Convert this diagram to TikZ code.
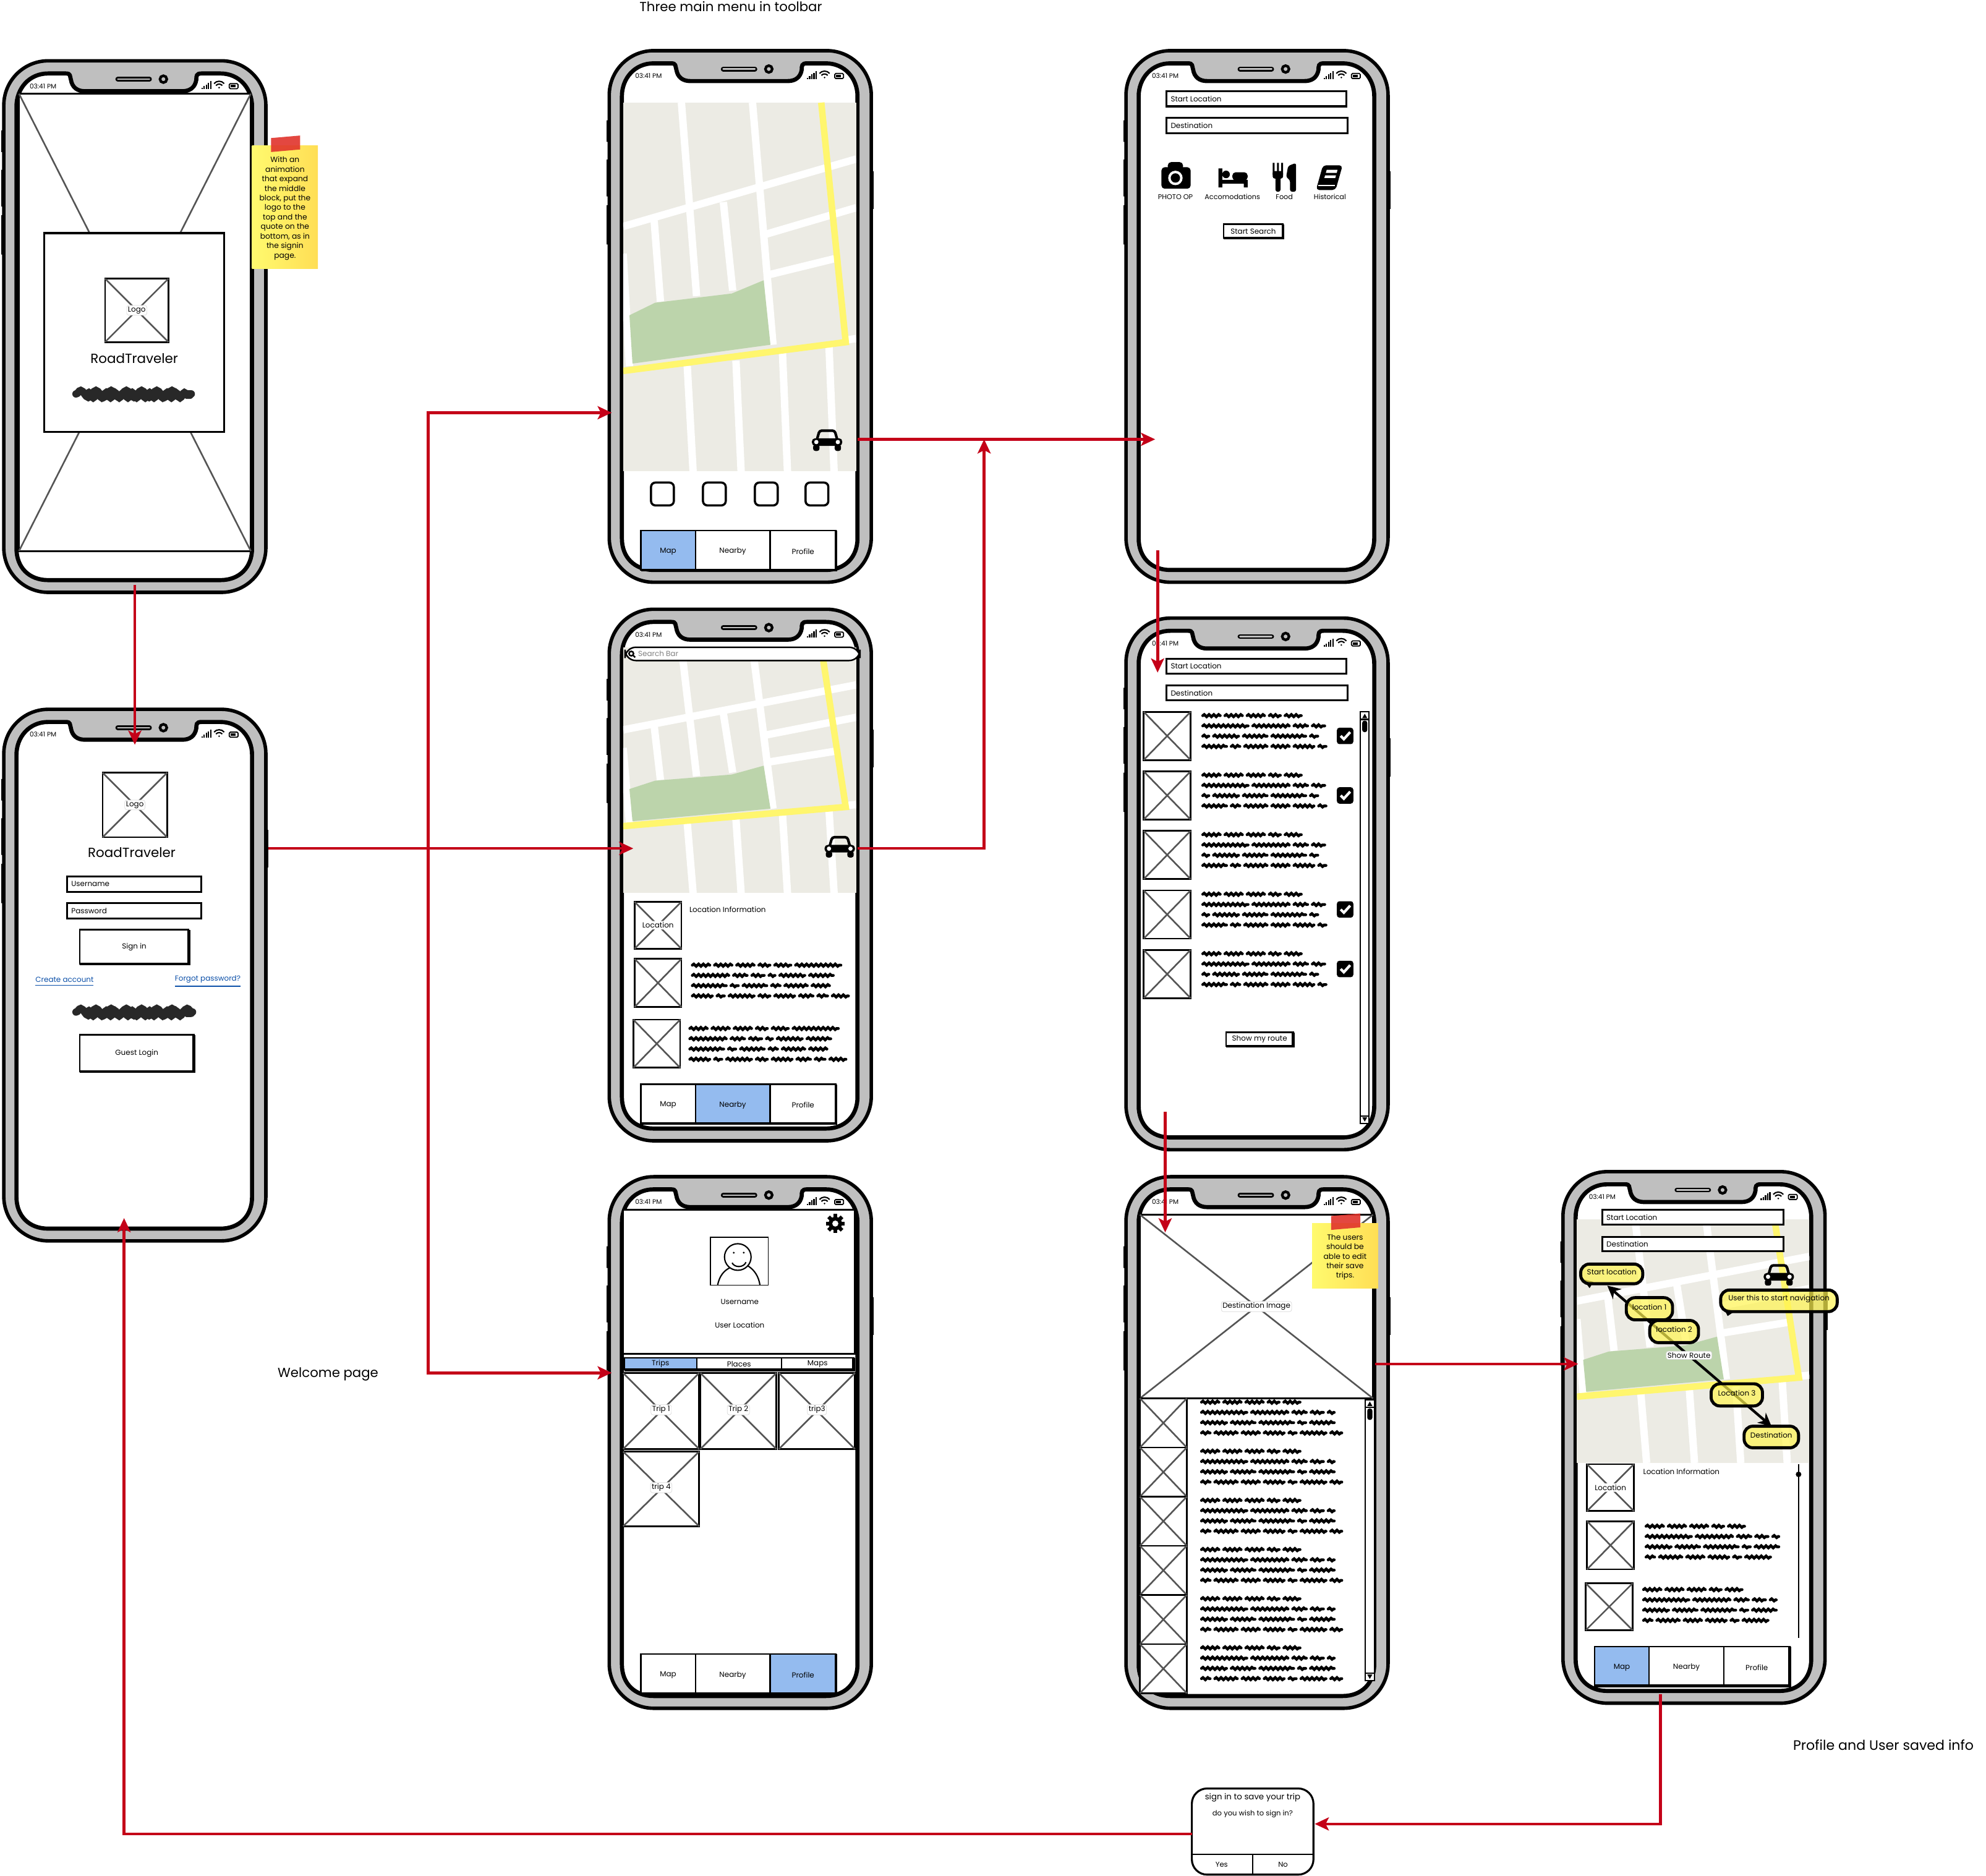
\documentclass[tikz,border=0pt]{standalone}
\usepackage{fontspec}
\setmainfont{Poppins}
\usetikzlibrary{arrows.meta, fit, calc, decorations.pathmorphing}
\definecolor{casegray}{RGB}{191,191,191}
\definecolor{crossgray}{RGB}{85,85,85}
\definecolor{flowred}{RGB}{196,0,24}
\definecolor{tabblue}{RGB}{148,187,239}
\definecolor{linkblue}{RGB}{11,79,168}
\definecolor{mapground}{RGB}{236,235,228}
\definecolor{mappark}{RGB}{188,212,171}
\definecolor{maproad}{RGB}{255,246,110}
\definecolor{stickylight}{RGB}{255,250,110}
\definecolor{stickydark}{RGB}{255,222,85}
\definecolor{tapered}{RGB}{224,52,44}
\definecolor{bubbleyellow}{RGB}{255,244,80}
\definecolor{blobgray}{RGB}{40,40,40}

\newcommand{\fsz}[1]{\fontsize{#1}{#1}\selectfont}

\tikzset{
    phonecase/.style={draw=black, fill=casegray, line width=1.6pt, rounded corners=0.72cm, anchor=north west, inner sep=0pt, outer sep=0pt, minimum width=4.24cm, minimum height=8.6cm},
    phonescreen/.style={draw=black, fill=white, line width=1.9pt},
    statustext/.style={font=\fsz{3}, inner sep=0pt},
    wireimg/.style={draw=black, fill=white, line width=0.8pt, inner sep=0pt, outer sep=0pt},
    wirecross/.style={draw=crossgray, line width=0.75pt},
    wiretag/.style={font=\fsz{3.4}, fill=white, draw=black!15, line width=0.2pt, rounded corners=1pt, inner sep=0.6pt},
    fieldbox/.style={draw=black, fill=white, line width=0.9pt, inner sep=0pt, outer sep=0pt},
    fieldtext/.style={font=\fsz{3.4}, anchor=west, inner sep=0pt},
    plaintext/.style={font=\fsz{3.4}, inner sep=0pt},
    captiontext/.style={font=\fsz{6.05}, inner sep=0pt},
    brandtext/.style={font=\fsz{6.1}, inner sep=0pt},
    btnbox/.style={draw=black, fill=white, line width=0.7pt, inner sep=0pt, outer sep=0pt},
    btnshade/.style={draw=black, line width=1.3pt},
    tabcell/.style={draw=black, line width=0.6pt, inner sep=0pt, outer sep=0pt},
    scribble/.style={line width=1.3pt, line cap=round, decorate, decoration={snake, amplitude=0.5pt, segment length=2.2pt}},
    scribbleblob/.style={draw=blobgray, line width=3.4pt, line cap=round, decorate, decoration={snake, amplitude=1.6pt, segment length=7pt}},
    stickynote/.style={left color=stickylight, right color=stickydark, inner sep=0pt, outer sep=0pt, align=center},
    bubble/.style={draw=black, line width=1.4pt, fill=bubbleyellow, fill opacity=0.7, text opacity=1, rounded corners=4pt, inner sep=0pt},
    flow/.style={draw=flowred, line width=1.3pt, -{Stealth[length=6.5pt, width=6pt, inset=1.5pt]}},
    routeline/.style={draw=black, line width=1.2pt, {Stealth[length=6pt, width=6pt]}-{Stealth[length=6pt, width=6pt]}},
    roadline/.style={draw=white, line width=3.4pt},
}

% phone body with status bar: name, x, y
\newcommand{\phone}[3]{%
    \begin{scope}[shift={(#2,#3)}]
        % side buttons
        \fill[black] (-2,55) rectangle (1,72) (-2,86) rectangle (1,115) (-2,122) rectangle (1,153);
        \fill[black] (205,95) rectangle (209,125);
        \node[phonecase] (#1) at (0,0) {};
        \draw[phonescreen] (35,10) -- (49,10) .. controls (53,10) and (52,12) .. (53,15) .. controls (54,21) and (58,24) .. (64,24) -- (141,24) .. controls (147,24) and (151,21) .. (152,15) .. controls (152,12) and (152,10) .. (156,10) -- (171,10) .. controls (186,10) and (196,22) .. (196,36) -- (196,385) .. controls (196,400) and (186,410) .. (171,410) -- (35,410) .. controls (20,410) and (10,400) .. (10,385) -- (10,36) .. controls (10,22) and (20,10) .. (35,10) -- cycle;
        % speaker and camera
        \draw[line width=2.2pt, line cap=round] (90,14.5) -- (115,14.5);
        \draw[casegray, line width=0.7pt, line cap=round] (90,14.5) -- (115,14.5);
        \draw[line width=1.2pt] (126,14.5) circle (2.7);
        \node[statustext] (#1-time) at (31,20) {03:41 PM};
        % signal bars
        \foreach \i in {0,...,4} {
            \fill[black] ({156+1.7*\i},22.5) rectangle ++(1.1,{-1.2-1.3*\i});
        }
        % wifi
        \draw[line width=0.6pt] (166,18) .. controls (168,15.5) and (172,15.5) .. (174,18);
        \draw[line width=0.6pt] (167.5,19.5) .. controls (169,18) and (171,18) .. (172.5,19.5);
        \fill[black] (170,21.2) circle (0.7);
        % battery
        \draw[line width=0.5pt, rounded corners=0.5pt] (178,18) rectangle (185,22);
        \fill[black] (179,19) rectangle (183,21);
    \end{scope}
}

% map view: x, y, width, height
\newcommand{\mapview}[4]{%
    \begin{scope}[shift={(#1,#2)}, xscale=#3, yscale=#4]
        \fill[mapground] (0,0) rectangle (1,1);
        \begin{scope}
            \clip (0,0) rectangle (1,1);
            % roads
            \foreach \ua/\va/\ub/\vb in {0/.336/1/.153, .608/.358/1/.285, .626/.467/.91/.423, .25/0/.315/.525, .555/0/.643/.657, .133/.32/.16/.54, .43/.27/.47/.51, 0/.41/.027/.715, .275/.715/.30/1, .484/.70/.506/1, .683/.67/.705/1, .883/.657/.905/1, .95/.645/1/.64} {
                \draw[roadline] (\ua,\va) -- (\ub,\vb);
            }
            \fill[mappark] (.027,.577) -- (.137,.543) -- (.466,.518) -- (.603,.482) -- (.632,.657) -- (.04,.708) -- cycle;
            \draw[draw=maproad, line width=3pt] (.85,0) -- (.955,.65) -- (0,.728);
        \end{scope}
    \end{scope}
}

% image placeholder: name, x1, y1, x2, y2
\newcommand{\wirebox}[5]{%
    \node[wireimg, fit={(#2,#3)(#4,#5)}] (#1) {};
    \draw[wirecross] (#1.north west) -- (#1.south east) (#1.north east) -- (#1.south west);
}

% input field: name, x1, y1, x2, y2, text
\newcommand{\inputfield}[6]{%
    \node[fieldbox, fit={(#2,#3)(#4,#5)}] (#1) {};
    \node[fieldtext] (#1-text) at ([shift={(3,0)}]#1.west) {#6};
}

% button with heavy edge: name, x1, y1, x2, y2, text
\newcommand{\wirebutton}[6]{%
    \node[btnbox, fit={(#2,#3)(#4,#5)}] (#1) {};
    \node[plaintext] (#1-text) at (#1) {#6};
    \draw[btnshade] (#1.north east) -- (#1.south east) -- (#1.south west);
}

% bottom toolbar: name, x, y, active cell
\newcommand{\tabbar}[4]{%
    \foreach \cellno/\cola/\colb/\celltext in {1/0/43/Map, 2/43/102/Nearby, 3/102/154/Profile} {
        \ifnum\cellno=#4 \def\tabfill{tabblue}\else\def\tabfill{white}\fi
        \node[tabcell, fill=\tabfill, fit={({#2+\cola},#3)({#2+\colb},{#3+31})}] (#1-\cellno) {};
        \node[plaintext] (#1-\cellno-text) at ([shift={(0,1)}]#1-\cellno) {\celltext};
    }
    \draw[btnshade] (#1-3.north east) -- (#1-3.south east) -- (#1-1.south west);
}

% scribbled paragraph: x, y, width
\newcommand{\lorem}[3]{%
    \xdef\wordx{0}\xdef\wordy{0}
    \foreach \w in {15,15,15,10,14,37,30,12,11,6,21,20,28,7,20,8,19,15,17,7,21,10,17,12,9,14,18,22,11,16} {
        \pgfmathsetmacro\wordend{\wordx+\w}
        \ifdim\wordend pt>#3pt
            \pgfmathsetmacro\wordtmp{\wordy+8.1}
            \xdef\wordy{\wordtmp}
            \xdef\wordx{0}
            \pgfmathsetmacro\wordend{\w}
        \fi
        \ifdim\wordy pt<25pt
            \draw[scribble] ({#1+\wordend-\w+0.6},{#2+\wordy}) -- ++({\w-1.2},0);
        \fi
        \pgfmathsetmacro\wordtmp{\wordend+2.5}
        \xdef\wordx{\wordtmp}
    }
}

% thick scribble: x1, x2, y
\newcommand{\blobline}[3]{%
    \draw[scribbleblob] (#1,#3) -- (#2,#3);
    \draw[scribbleblob, decoration={segment length=4pt, amplitude=1.2pt}] ({#1+8},{#3+1}) -- ({#2-1},{#3+1});
}

% scroll bar: x1, y1, x2, y2
\newcommand{\scrollrail}[4]{%
    \draw[line width=0.6pt, fill=white] (#1,#2) rectangle (#3,#4);
    \draw[line width=0.6pt] (#1,{#2+6}) -- (#3,{#2+6}) (#1,{#4-6}) -- (#3,{#4-6});
    \fill[black] ({#1+1.5},{#2+5}) -- ({#3-1.5},{#2+5}) -- ({(#1+#3)/2},{#2+1.5}) -- cycle;
    \fill[black] ({#1+1.5},{#4-5}) -- ({#3-1.5},{#4-5}) -- ({(#1+#3)/2},{#4-1.5}) -- cycle;
    \fill[black, rounded corners=1pt] ({#1+1.5},{#2+7}) rectangle ({#3-1.5},{#2+16});
}

% black car: center x, y
\newcommand{\caricon}[2]{%
    \begin{scope}[shift={(#1,#2)}]
        \draw[line width=1.2pt, rounded corners=1pt] (-8,0) -- (-6,-7) -- (6,-7) -- (8,0);
        \fill[black, rounded corners=1.5pt] (-12,-1) rectangle (12,5);
        \fill[black, rounded corners=1pt] (-11,4) rectangle (-6,9) (6,4) rectangle (11,9);
        \fill[white] (-8.5,2) circle (1.7) (8.5,2) circle (1.7);
    \end{scope}
}

% checked box: center x, y
\newcommand{\checkicon}[2]{%
    \fill[black, rounded corners=1.2pt] ({#1-6.5},{#2-6.5}) rectangle ({#1+6.5},{#2+6.5});
    \draw[white, line width=1.2pt] ({#1-3.5},{#2}) -- ({#1-1},{#2+2.5}) -- ({#1+4},{#2-3});
}

% sticky note: name, x1, y1, x2, y2, text
\newcommand{\sticky}[6]{%
    \node[stickynote, fit={(#2,#3)(#4,#5)}] (#1) {};
    \node[align=center, inner sep=0pt, font=\fontsize{3.5}{4.4}\selectfont] (#1-text) at ([shift={(0,1)}]#1) {#6};
    \fill[tapered, opacity=0.9] ([shift={(-11,-6)}]#1.north) -- ([shift={(12,-8)}]#1.north) -- ([shift={(12,3)}]#1.north) -- ([shift={(-11,5)}]#1.north) -- cycle;
}

\begin{document}
\begin{tikzpicture}[x=0.020485cm, y=-0.020485cm]
    \useasboundingbox (0,0) rectangle (1568,1481);
    \fill[white] (0,0) rectangle (1568,1481);

    % Free captions
    \node[captiontext] (capmenu) at (577,5) {Three main menu in toolbar};
    \node[captiontext] (capwelcome) at (259,1085) {Welcome page};
    \node[captiontext, font=\fsz{6.3}] (capprofile) at (1487,1377.5) {Profile and User saved info};

    % Welcome screen
    \phone{welcome}{3}{48}
    \wirebox{splashimg}{15}{74}{198}{435}
    \node[fieldbox, fit={(35,184)(177,341)}] (splashcard) {};
    \wirebox{splashlogo}{83}{220}{133}{270}
    \node[wiretag] (splashlogotag) at (splashlogo) {Logo};
    \node[brandtext] (splashbrand) at (106,283) {RoadTraveler};
    \blobline{60}{151}{311}
    \sticky{splashnote}{199}{115}{251}{212}{With an\\animation\\that expand\\the middle\\block, put the\\logo to the\\top and the\\quote on the\\bottom, as in\\the signin\\page.}

    % Sign in screen
    \phone{signin}{3}{560}
    \wirebox{signlogo}{81}{610}{132}{661}
    \node[wiretag] (signlogotag) at (signlogo) {Logo};
    \node[brandtext] (signbrand) at (104,673) {RoadTraveler};
    \inputfield{signuser}{53}{692}{159}{704}{Username}
    \inputfield{signpass}{53}{713}{159}{725}{Password}
    \wirebutton{signbtn}{63}{734}{149}{761}{Sign in}
    \node[plaintext, text=linkblue] (signcreate) at (51,775) {\underline{Create account}};
    \node[plaintext, text=linkblue] (signforgot) at (164,775) {\underline{Forgot password?}};
    \blobline{60}{152}{799}
    \wirebutton{signguest}{63}{817}{153}{846}{Guest Login}

    % Map screen
    \phone{mapscreen}{481}{40}
    \mapview{492}{81}{184}{291}
    \caricon{653}{347}
    \foreach \x in {514,555,596,636} {
        \draw[line width=1pt, rounded corners=2pt] (\x,381) rectangle ++(18,18);
    }
    \tabbar{maptabs}{506}{419}{1}

    % Nearby screen
    \phone{nearby}{481}{481}
    \mapview{492}{511}{184}{194}
    \draw[line width=0.7pt, fill=white, rounded corners=5pt] (493.5,511) rectangle (679,521.5);
    \draw[line width=0.7pt] (498.4,516) circle (1.8) (499.8,517.4) -- (501.5,519);
    \node[fieldtext, text=gray] (nearbysearch) at (503.5,516) {Search Bar};
    \caricon{663}{668}
    \wirebox{nearbyloc}{501}{712}{538}{749}
    \node[wiretag, draw=none] (nearbyloctag) at (nearbyloc) {Location};
    \node[fieldtext] (nearbyinfo) at (544,718) {Location Information};
    \wirebox{nearbyimga}{501}{757}{538}{795}
    \wirebox{nearbyimgb}{500}{805}{537}{843}
    \lorem{546}{762}{128}
    \lorem{544}{812}{128}
    \tabbar{nearbytabs}{506}{856}{2}

    % Profile screen
    \phone{profile}{481}{929}
    \node[fieldbox, fit={(492,955)(675,1069)}] (profilehead) {};
    \foreach \a in {0,45,...,315} {
        \fill[black, rotate around={\a:(659.5,966)}] (658,958.5) rectangle (661,962);
    }
    \fill[black] (659.5,966) circle (5.3);
    \fill[white] (659.5,966) circle (2.4);
    \node[fieldbox, line width=0.5pt, fit={(561,977)(606.5,1014.6)}] (profilepic) {};
    \draw[line width=0.6pt] (582.5,992.4) circle (10.5);
    \draw[line width=0.6pt] (566.6,1014.6) .. controls (568,1007) and (572,1003) .. (576,1001);
    \draw[line width=0.6pt] (590.7,999.5) .. controls (596,1003) and (599,1008) .. (600,1014.6);
    \fill[black] (579.3,989) circle (0.8) (587.2,989) circle (0.8);
    \draw[line width=0.6pt] (578,997) .. controls (580,1001) and (587,1001) .. (589,996.5);
    \node[plaintext] (profilename) at (584,1028) {Username};
    \node[plaintext] (profileplace) at (584,1046) {User Location};
    \foreach \cellno/\cola/\colb/\celltext/\cellfill in {1/493/550/Trips/tabblue, 2/550/617/Places/white, 3/617/674/Maps/white} {
        \node[tabcell, fill=\cellfill, fit={(\cola,1072)(\colb,1081.5)}] (profiletab\cellno) {};
        \node[plaintext] (profiletab\cellno-text) at (profiletab\cellno) {\celltext};
    }
    \draw[btnshade] (profiletab3.north east) -- (profiletab3.south east) -- (profiletab1.south west);
    \foreach \n/\xa/\ya/\xb/\yb/\lbl in {1/492/1084/552/1144/Trip 1, 2/553/1084/613/1144/Trip 2, 3/615/1084/675/1144/trip3, 4/492/1146/552/1205/trip 4} {
        \wirebox{tripimg\n}{\xa}{\ya}{\xb}{\yb}
        \node[wiretag] (tripimg\n tag) at ([shift={(0,-1)}]tripimg\n) {\lbl};
    }
    \tabbar{profiletabs}{506}{1306}{3}

    % Search screen
    \phone{search}{889}{40}
    \inputfield{searchstart}{921}{72}{1063}{84}{Start Location}
    \inputfield{searchdest}{921}{93}{1064}{105}{Destination}
    % camera
    \fill[black, rounded corners=1.5pt] (917,132) rectangle (940,149) (922,128) rectangle (934,134);
    \fill[white] (928,140.5) circle (5.7);
    \fill[black] (928,140.5) circle (3.7);
    % bed
    \fill[black] (962,133) rectangle (965,148) (965,142) rectangle (985,145) (982,145) rectangle (985,148);
    \fill[black] (968,137.7) circle (3);
    \fill[black, rounded corners=1.5pt] (973,136) rectangle (985,142.5);
    % fork and knife
    \fill[black] (1004.8,128.6) rectangle (1006.3,138) (1008.2,128.6) rectangle (1009.7,138) (1011.5,128.6) rectangle (1013,138);
    \fill[black, rounded corners=1pt] (1004.8,135) rectangle (1013,141) (1007,138) rectangle (1011,151.4);
    \fill[black, rounded corners=1pt] (1015.4,140) -- (1017,131) -- (1023.3,128.6) -- (1023.3,151.4) -- (1018.5,151.4) -- (1018.5,142) -- cycle;
    % book
    \fill[black, rounded corners=1.5pt] (1044.5,130.5) -- (1060,130.5) -- (1054.5,150) -- (1039,150) -- cycle;
    \fill[white] (1047.5,134) -- (1056,134) -- (1055.4,136.5) -- (1046.8,136.5) -- cycle (1046.2,138.5) -- (1054.8,138.5) -- (1054.2,140.5) -- (1045.6,140.5) -- cycle;
    \draw[white, line width=0.4pt] (1041,146.5) -- (1054,146.5);
    \foreach \x/\lbl/\n in {928/PHOTO OP/a, 973/Accomodations/b, 1014/Food/c, 1050/Historical/d} {
        \node[plaintext, font=\fsz{3.2}] (searchcat\n) at (\x,155.5) {\lbl};
    }
    \wirebutton{searchbtn}{966}{177}{1013}{188}{Start Search}

    % Result list screen
    \phone{results}{889}{488}
    \inputfield{resultstart}{921}{520}{1063}{532}{Start Location}
    \inputfield{resultdest}{921}{541}{1064}{553}{Destination}
    \foreach \i in {0,...,4} {
        \pgfmathsetmacro\rowy{562+47*\i}
        \wirebox{resultimg\i}{903}{\rowy}{940}{\rowy+38}
        \lorem{949}{\rowy+3}{100}
    }
    \foreach \y in {581,628,718,765} {
        \checkicon{1062}{\y}
    }
    \scrollrail{1074}{562}{1081}{887}
    \wirebutton{resultbtn}{968}{815}{1021}{826}{Show my route}

    % Trip detail screen
    \phone{trip}{889}{929}
    \wirebox{tripphoto}{900}{959}{1084}{1104}
    \node[wiretag] (tripphototag) at (tripphoto) {Destination Image};
    \sticky{tripnote}{1036}{966}{1088}{1017}{The users\\should be\\able to edit\\their save\\trips.}
    \foreach \i in {0,...,5} {
        \pgfmathsetmacro\rowy{1104+38.8*\i}
        \wirebox{tripstop\i}{900}{\rowy}{937}{\rowy+38.8}
        \lorem{948}{\rowy+3}{115}
    }
    \scrollrail{1078}{1105}{1085}{1327}

    % Route screen
    \phone{route}{1234}{925}
    \mapview{1245}{962.5}{183.5}{192.5}
    \inputfield{routestartfield}{1265}{955}{1408}{967}{Start Location}
    \inputfield{routedestfield}{1265}{976.5}{1408}{988}{Destination}
    \caricon{1404.4}{1006}
    \coordinate (routestart) at (1269,1015);
    \coordinate (routeend) at (1398.6,1126);
    \draw[routeline] (routestart) -- (routeend);
    \node[wiretag] (routeshow) at (1333.5,1070) {Show Route};
    % tails of the two long callouts
    \fill[black] (1250,1010) -- (1258,1012) -- (1255,1017) -- cycle (1361,1033) -- (1370,1035) -- (1364,1039) -- cycle;
    \foreach \n/\xa/\ya/\xb/\yb/\lbl in {a/1248/998/1297/1013.5/Start location, b/1284/1024.5/1320.5/1042/location 1, c/1302.5/1042.5/1341/1060/location 2, d/1351/1092.5/1391.5/1110/Location 3, e/1377/1126/1420/1143/Destination, f/1358.5/1018.5/1450.5/1035.5/User this to start navigation} {
        \node[bubble, fit={(\xa,\ya)(\xb,\yb)}] (routetag\n) {};
        \node[plaintext] (routetag\n-text) at ([shift={(0,-1.5)}]routetag\n) {\lbl};
    }
    \wirebox{routeloc}{1253}{1156}{1290}{1193}
    \node[wiretag, draw=none] (routeloctag) at (routeloc) {Location};
    \node[fieldtext] (routeinfo) at (1297,1162) {Location Information};
    \wirebox{routeimga}{1253}{1201}{1290}{1239}
    \wirebox{routeimgb}{1252}{1250}{1289}{1287}
    \lorem{1299}{1205}{108}
    \lorem{1297}{1255}{108}
    \draw[line width=0.6pt] (1420,1156) -- (1420,1293);
    \fill[black] (1420,1164) circle (2.2);
    \tabbar{routetabs}{1259}{1300}{1}

    % Sign in prompt
    \node[fieldbox, rounded corners=7pt, fit={(941,1412)(1037,1480)}] (signprompt) {};
    \draw[line width=0.7pt] (signprompt.west |- 0,1464) -- (signprompt.east |- 0,1464);
    \draw[line width=0.7pt] (989,1464) -- (signprompt.south -| 989,0);
    \node[plaintext, font=\fsz{3.8}] (prompttitle) at (989,1419) {sign in to save your trip};
    \node[plaintext, font=\fsz{3.3}] (promptask) at (989,1432) {do you wish to sign in?};
    \node[plaintext, font=\fsz{3.3}] (promptyes) at (964.5,1472) {Yes};
    \node[plaintext, font=\fsz{3.3}] (promptno) at (1013,1472) {No};

    % Connectors
    \coordinate (fork) at (338,670);
    \draw[flow] ([shift={(0,-6)}]welcome.south) -- ([shift={(0,28)}]signin.north);
    \draw[flow] ([shift={(2,-100)}]signin.east) -- ([shift={(19,-21)}]nearby.west);
    \draw[flow] (fork) |- ([shift={(2,76)}]mapscreen.west);
    \draw[flow] (fork) |- ([shift={(2,-55)}]profile.west);
    \draw[flow] ([shift={(-11,97)}]mapscreen.east) -- ([shift={(23,97)}]search.west);
    \draw[flow] ([shift={(-11,-21)}]nearby.east) -| ([shift={(-112,97)}]search.west);
    \draw[flow] ([shift={(-78.5,-25)}]search.south) -- ([shift={(-78.5,43)}]results.north);
    \draw[flow] ([shift={(-72.5,-30)}]results.south) -- ([shift={(-72.5,44)}]trip.north);
    \draw[flow] ([shift={(-10,-62)}]trip.east) -- ([shift={(12,-58)}]route.west);
    \draw[flow] ([shift={(-26.5,-7)}]route.south) |- ([shift={(1,-6)}]signprompt.east);
    \draw[flow] ([shift={(0,2)}]signprompt.west) -| ([shift={(-8.5,-18)}]signin.south);
\end{tikzpicture}
\end{document}
